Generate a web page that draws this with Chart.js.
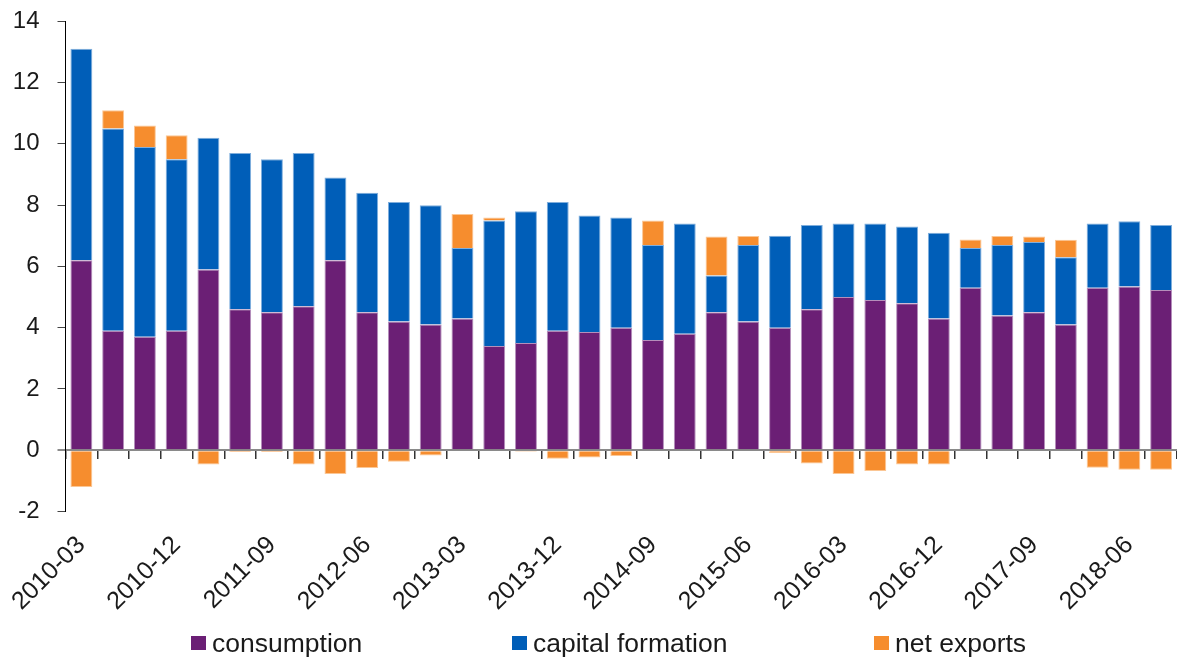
<!DOCTYPE html>
<html>
<head>
<meta charset="utf-8">
<script src="https://cdn.jsdelivr.net/npm/chart.js@4.4.1/dist/chart.umd.min.js"></script>
<style>
  html, body { margin: 0; padding: 0; background: #fff; }
  #wrap { position: relative; width: 1177px; height: 659px; overflow: hidden; }
  #legend { position: absolute; left: 0; top: 0; width: 1177px; height: 659px; pointer-events: none; }
  .item { position: absolute; top: 627px; height: 32px; display: flex; align-items: center;
          font-family: "Liberation Sans", Arial, sans-serif; font-size: 26.5px; color: #1a1a1a; white-space: nowrap; }
  .box { width: 15px; height: 14px; margin-right: 6px; }
</style>
</head>
<body>
<div id="wrap">
  <canvas id="c" width="1177" height="659"></canvas>
  <div id="legend"></div>
</div>
<script>
const categories = [
  "2010-03","2010-06","2010-09","2010-12","2011-03","2011-06","2011-09","2011-12",
  "2012-03","2012-06","2012-09","2012-12","2013-03","2013-06","2013-09","2013-12",
  "2014-03","2014-06","2014-09","2014-12","2015-03","2015-06","2015-09","2015-12",
  "2016-03","2016-06","2016-09","2016-12","2017-03","2017-06","2017-09","2017-12",
  "2018-03","2018-06","2018-09"
];
const shownLabels = ["2010-03","2010-12","2011-09","2012-06","2013-03","2013-12",
  "2014-09","2015-06","2016-03","2016-12","2017-09","2018-06"];
const consumption = [6.2,3.9,3.7,3.9,5.9,4.6,4.5,4.7,6.2,4.5,4.2,4.1,4.3,3.4,3.5,3.9,
  3.86,4.0,3.6,3.8,4.5,4.2,4.0,4.6,5.0,4.9,4.8,4.3,5.3,4.4,4.5,4.1,5.3,5.34,5.23];
const capitalFormation = [6.9,6.6,6.2,5.6,4.3,5.1,5.0,5.0,2.7,3.9,3.9,3.9,2.3,4.1,4.3,4.2,
  3.8,3.6,3.1,3.6,1.2,2.5,3.0,2.75,2.4,2.5,2.5,2.8,1.3,2.3,2.3,2.2,2.1,2.13,2.12];
const netExports = [-1.2,0.6,0.7,0.78,-0.47,-0.06,-0.06,-0.47,-0.78,-0.58,-0.38,-0.17,
  1.11,0.1,-0.05,-0.28,-0.24,-0.19,0.8,0,1.28,0.29,-0.09,-0.43,-0.78,-0.68,-0.47,-0.47,
  0.28,0.29,0.18,0.57,-0.57,-0.64,-0.64];
const seriesNames = ["consumption","capital formation","net exports"];
const yTicks = [-2,0,2,4,6,8,10,12,14];

const colors = ["#6b1f75", "#005eb8", "#f68d2e"];
const edgeColors = ["#b58fbb", "#7faedc", "#fbc694"];
const seriesData = [consumption, capitalFormation, netExports];

const datasets = seriesNames.map((name, i) => ({
  label: name,
  data: seriesData[i],
  backgroundColor: colors[i],
  borderColor: edgeColors[i],
  borderWidth: 1,
  xAxisID: 'x',
  yAxisID: 'y',
  stack: 's',
  barPercentage: 0.69,
  categoryPercentage: 1.0
}));

const FONT = '"Liberation Sans", Arial, sans-serif';

new Chart(document.getElementById('c'), {
  type: 'bar',
  data: { labels: categories, datasets },
  options: {
    responsive: false,
    animation: false,
    layout: { padding: { top: 21.3, left: 0, right: -3.6, bottom: 47.5 } },
    plugins: { legend: { display: false }, tooltip: { enabled: false } },
    scales: {
      x: {
        type: 'category',
        position: 'bottom',
        stacked: true,
        offset: true,
        grid: { display: false, drawTicks: false, offset: true },
        border: { display: false },
        ticks: {
          autoSkip: false,
          minRotation: 45,
          maxRotation: 45,
          padding: 19,
          color: '#1a1a1a',
          font: { family: FONT, size: 25 },
          callback: function (v, i) {
            const lab = categories[i];
            return shownLabels.includes(lab) ? lab : '';
          }
        },
        afterFit: (s) => { s.height = 100; s.paddingLeft = 0; s.paddingRight = 0; }
      },
      x2: {
        type: 'category',
        position: { y: 0 },
        offset: true,
        grid: { offset: true, drawOnChartArea: false, drawTicks: true, tickLength: 8, color: '#333', lineWidth: 1.5 },
        border: { display: true, color: '#8a8a8a', width: 2 },
        ticks: { display: false },
        afterFit: (s) => { s.paddingLeft = 0; s.paddingRight = 0; }
      },
      y: {
        stacked: true,
        min: -2,
        max: 14,
        afterBuildTicks: (s) => { s.ticks = yTicks.map(v => ({ value: v })); },
        grid: {
          drawOnChartArea: false,
          drawTicks: true,
          tickLength: 8,
          color: (ctx) => (ctx.tick && ctx.tick.value === 0 ? '#8a8a8a' : '#444'),
          lineWidth: (ctx) => (ctx.tick && ctx.tick.value === 0 ? 2 : 1)
        },
        border: { display: true, color: '#000', width: 1 },
        ticks: {
          padding: 18,
          color: '#1a1a1a',
          font: { family: FONT, size: 24 }
        },
        afterFit: (s) => { s.width = 65.5; s.paddingTop = 0; s.paddingBottom = 0; }
      }
    }
  }
});

// HTML legend built from series names and colours
const legendLefts = [191, 512, 874];
const legend = document.getElementById('legend');
seriesNames.forEach((name, i) => {
  const it = document.createElement('div');
  it.className = 'item';
  it.style.left = legendLefts[i] + 'px';
  const b = document.createElement('span');
  b.className = 'box';
  b.style.background = colors[i];
  const t = document.createElement('span');
  t.textContent = name;
  it.appendChild(b);
  it.appendChild(t);
  legend.appendChild(it);
});
</script>
</body>
</html>
